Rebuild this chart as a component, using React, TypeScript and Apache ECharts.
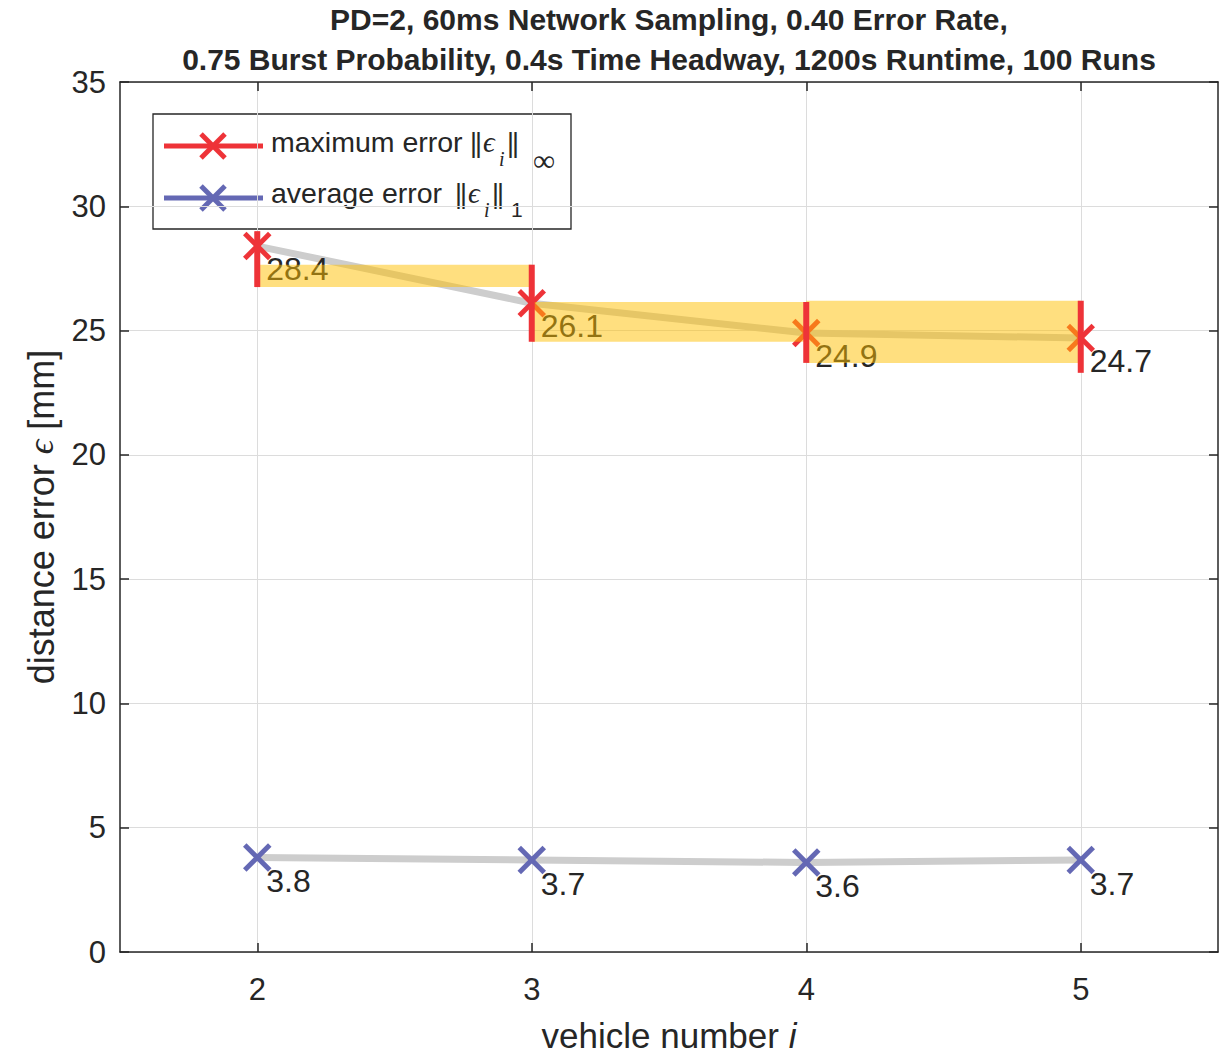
import React, { useEffect, useRef } from 'react';
import * as echarts from 'echarts';

// Vehicle positions along the platoon
const vehicles = [2, 3, 4, 5];
// Maximum and average distance error per vehicle [mm]
const maxError = [28.4, 26.1, 24.9, 24.7];
const avgError = [3.8, 3.7, 3.6, 3.7];
// Spread of the maximum error per vehicle [mm]
const maxSpreadLow = [26.75, 24.55, 23.7, 23.3];
const maxSpreadHigh = [29.0, 27.65, 26.15, 26.2];
// Shaded bands between neighbouring vehicles [mm]
const bandFrom = [2, 3, 4];
const bandTo = [3, 4, 5];
const bandLow = [26.75, 24.55, 23.7];
const bandHigh = [27.65, 26.15, 26.2];

const titleLines = [
  'PD=2, 60ms Network Sampling, 0.40 Error Rate,',
  '0.75 Burst Probability, 0.4s Time Headway, 1200s Runtime, 100 Runs',
];

const FONT = '"Liberation Sans", Arial, Helvetica, sans-serif';
const SERIF = '"Liberation Serif", "DejaVu Serif", serif';
const INK = '#262626';
const RED = '#EE3338';
const BLUE = '#6468B4';
const TRACE = '#CDCDCD';
const BAND = 'rgba(255,192,0,0.5)';
const GRID = '#DCDCDC';

function cross(cx: number, cy: number, h: number, color: string) {
  const style = { stroke: color, lineWidth: 5 };
  return [
    { type: 'line', shape: { x1: cx - h, y1: cy - h, x2: cx + h, y2: cy + h }, style },
    { type: 'line', shape: { x1: cx - h, y1: cy + h, x2: cx + h, y2: cy - h }, style },
  ];
}

// text placed by its alphabetic baseline
function txt(x: number, baseline: number, text: string, size: number, family: string, extra: any = {}) {
  return {
    type: 'text',
    x,
    y: baseline - 0.3465 * size,
    style: {
      text,
      fontSize: size,
      fontFamily: family,
      fill: INK,
      align: 'left',
      verticalAlign: 'middle',
      ...extra,
    },
  };
}

// ||ϵ_i||_sub written piece by piece
function norm(x: number, baseline: number, sub: string, subIsDigit: boolean) {
  const bar = (bx: number) => txt(bx, baseline, '|', 27, FONT, { align: 'center' });
  return [
    bar(x + 1.5),
    bar(x + 6.5),
    txt(x + 11, baseline, 'ϵ', 29, SERIF, { fontStyle: 'italic' }),
    txt(x + 27, baseline + 14, 'i', 20, SERIF, { fontStyle: 'italic' }),
    bar(x + 38.5),
    bar(x + 43.5),
    subIsDigit
      ? txt(x + 54, baseline + 14, sub, 21, FONT)
      : txt(x + 61, baseline + 19, sub, 31, SERIF),
  ];
}

function markerSeries(values: number[], color: string, labelDy: number) {
  return {
    type: 'custom',
    z: 3,
    silent: true,
    data: vehicles.map((v, i) => [v, values[i]]),
    renderItem: (_params: any, api: any) => {
      const p = api.coord([api.value(0), api.value(1)]);
      return {
        type: 'group',
        children: [
          ...cross(p[0], p[1], 12.5, color),
          {
            type: 'text',
            x: p[0] + 9,
            y: p[1] + labelDy,
            style: {
              text: Number(api.value(1)).toFixed(1),
              fontSize: 32,
              fontFamily: FONT,
              fill: INK,
              align: 'left',
              verticalAlign: 'top',
            },
          },
        ],
      };
    },
  };
}

function traceSeries(values: number[]) {
  return {
    type: 'line',
    z: 2,
    silent: true,
    symbol: 'none',
    data: vehicles.map((v, i) => [v, values[i]]),
    lineStyle: { color: TRACE, width: 7 },
  };
}

export default function App() {
  const ref = useRef<HTMLDivElement>(null);

  useEffect(() => {
    if (!ref.current) return;
    const chart = echarts.init(ref.current, null, { renderer: 'svg' });

    const axisLine = { show: true, onZero: false, lineStyle: { color: INK, width: 1.5 } };
    const tickStyle = { color: INK, width: 1.5 };

    const legendItems: any[] = [
      {
        type: 'rect',
        shape: { x: 153, y: 114, width: 418, height: 115 },
        style: { fill: '#fff', stroke: INK, lineWidth: 1.3 },
      },
      { type: 'line', shape: { x1: 164, y1: 146, x2: 263, y2: 146 }, style: { stroke: RED, lineWidth: 5 } },
      ...cross(213, 146, 12, RED),
      { type: 'line', shape: { x1: 164, y1: 198, x2: 263, y2: 198 }, style: { stroke: BLUE, lineWidth: 5 } },
      ...cross(213, 198, 12, BLUE),
      txt(271, 152, 'maximum error', 28.5, FONT),
      ...norm(472, 152, '∞', false),
      txt(271, 203, 'average error', 28.5, FONT),
      ...norm(457, 203, '1', true),
    ];

    const titleItems = titleLines.map((line, i) => ({
      type: 'text',
      x: 669,
      y: 30 + i * 40 - 0.3465 * 30,
      style: {
        text: line,
        fontSize: 30,
        fontWeight: 'bold',
        fontFamily: FONT,
        fill: INK,
        align: 'center',
        verticalAlign: 'middle',
      },
    }));

    chart.setOption({
      animation: false,
      backgroundColor: '#fff',
      grid: { left: 120, right: 10, top: 82, bottom: 102, containLabel: false, outerBoundsMode: 'none' },
      xAxis: [
        {
          type: 'value',
          min: 1.5,
          max: 5.5,
          position: 'bottom',
          axisLine,
          axisTick: { show: true, inside: true, length: 9, customValues: vehicles, lineStyle: tickStyle },
          axisLabel: { customValues: vehicles, fontSize: 31, color: INK, fontFamily: FONT, margin: 22 },
          splitLine: { show: true, lineStyle: { color: GRID, width: 1 } },
          name: 'vehicle number {i|i}',
          nameLocation: 'middle',
          nameGap: 66,
          nameTextStyle: {
            fontSize: 35,
            fontFamily: FONT,
            color: INK,
            rich: { i: { fontSize: 35, fontFamily: FONT, fontStyle: 'italic', color: INK } },
          },
        },
        {
          type: 'value',
          min: 1.5,
          max: 5.5,
          position: 'top',
          axisLine,
          axisTick: { show: true, inside: true, length: 9, customValues: vehicles, lineStyle: tickStyle },
          axisLabel: { show: false },
          splitLine: { show: false },
        },
      ],
      yAxis: [
        {
          type: 'value',
          min: 0,
          max: 35,
          interval: 5,
          position: 'left',
          axisLine,
          axisTick: { show: true, inside: true, length: 9, lineStyle: tickStyle },
          axisLabel: { fontSize: 31, color: INK, fontFamily: FONT, margin: 14 },
          splitLine: { show: true, lineStyle: { color: GRID, width: 1 } },
          name: 'distance error {e|ϵ} [mm]',
          nameLocation: 'middle',
          nameGap: 61,
          nameTextStyle: {
            fontSize: 36,
            fontFamily: FONT,
            color: INK,
            rich: { e: { fontSize: 36, fontFamily: SERIF, fontStyle: 'italic', color: INK } },
          },
        },
        {
          type: 'value',
          min: 0,
          max: 35,
          interval: 5,
          position: 'right',
          axisLine,
          axisTick: { show: true, inside: true, length: 9, lineStyle: tickStyle },
          axisLabel: { show: false },
          splitLine: { show: false },
        },
      ],
      series: [
        traceSeries(maxError),
        traceSeries(avgError),
        markerSeries(maxError, RED, 7),
        markerSeries(avgError, BLUE, 7.5),
        {
          type: 'custom',
          z: 4,
          silent: true,
          data: bandFrom.map((x0, i) => [x0, bandTo[i], bandLow[i], bandHigh[i]]),
          renderItem: (_params: any, api: any) => {
            const a = api.coord([api.value(0), api.value(3)]);
            const b = api.coord([api.value(1), api.value(2)]);
            return {
              type: 'rect',
              shape: { x: a[0], y: a[1], width: b[0] - a[0], height: b[1] - a[1] },
              style: { fill: BAND },
            };
          },
        },
        {
          type: 'custom',
          z: 5,
          silent: true,
          data: vehicles.map((v, i) => [v, maxSpreadLow[i], maxSpreadHigh[i]]),
          renderItem: (_params: any, api: any) => {
            const lo = api.coord([api.value(0), api.value(1)]);
            const hi = api.coord([api.value(0), api.value(2)]);
            return {
              type: 'line',
              shape: { x1: lo[0], y1: lo[1], x2: hi[0], y2: hi[1] },
              style: { stroke: RED, lineWidth: 6 },
            };
          },
        },
      ],
      graphic: [
        { type: 'group', z: 100, children: legendItems },
        { type: 'group', z: 100, children: titleItems },
      ],
    });

    return () => chart.dispose();
  }, []);

  return (
    <div
      ref={ref}
      style={{ position: 'absolute', left: 0, top: 0, width: 1228, height: 1054, background: '#fff' }}
    />
  );
}
